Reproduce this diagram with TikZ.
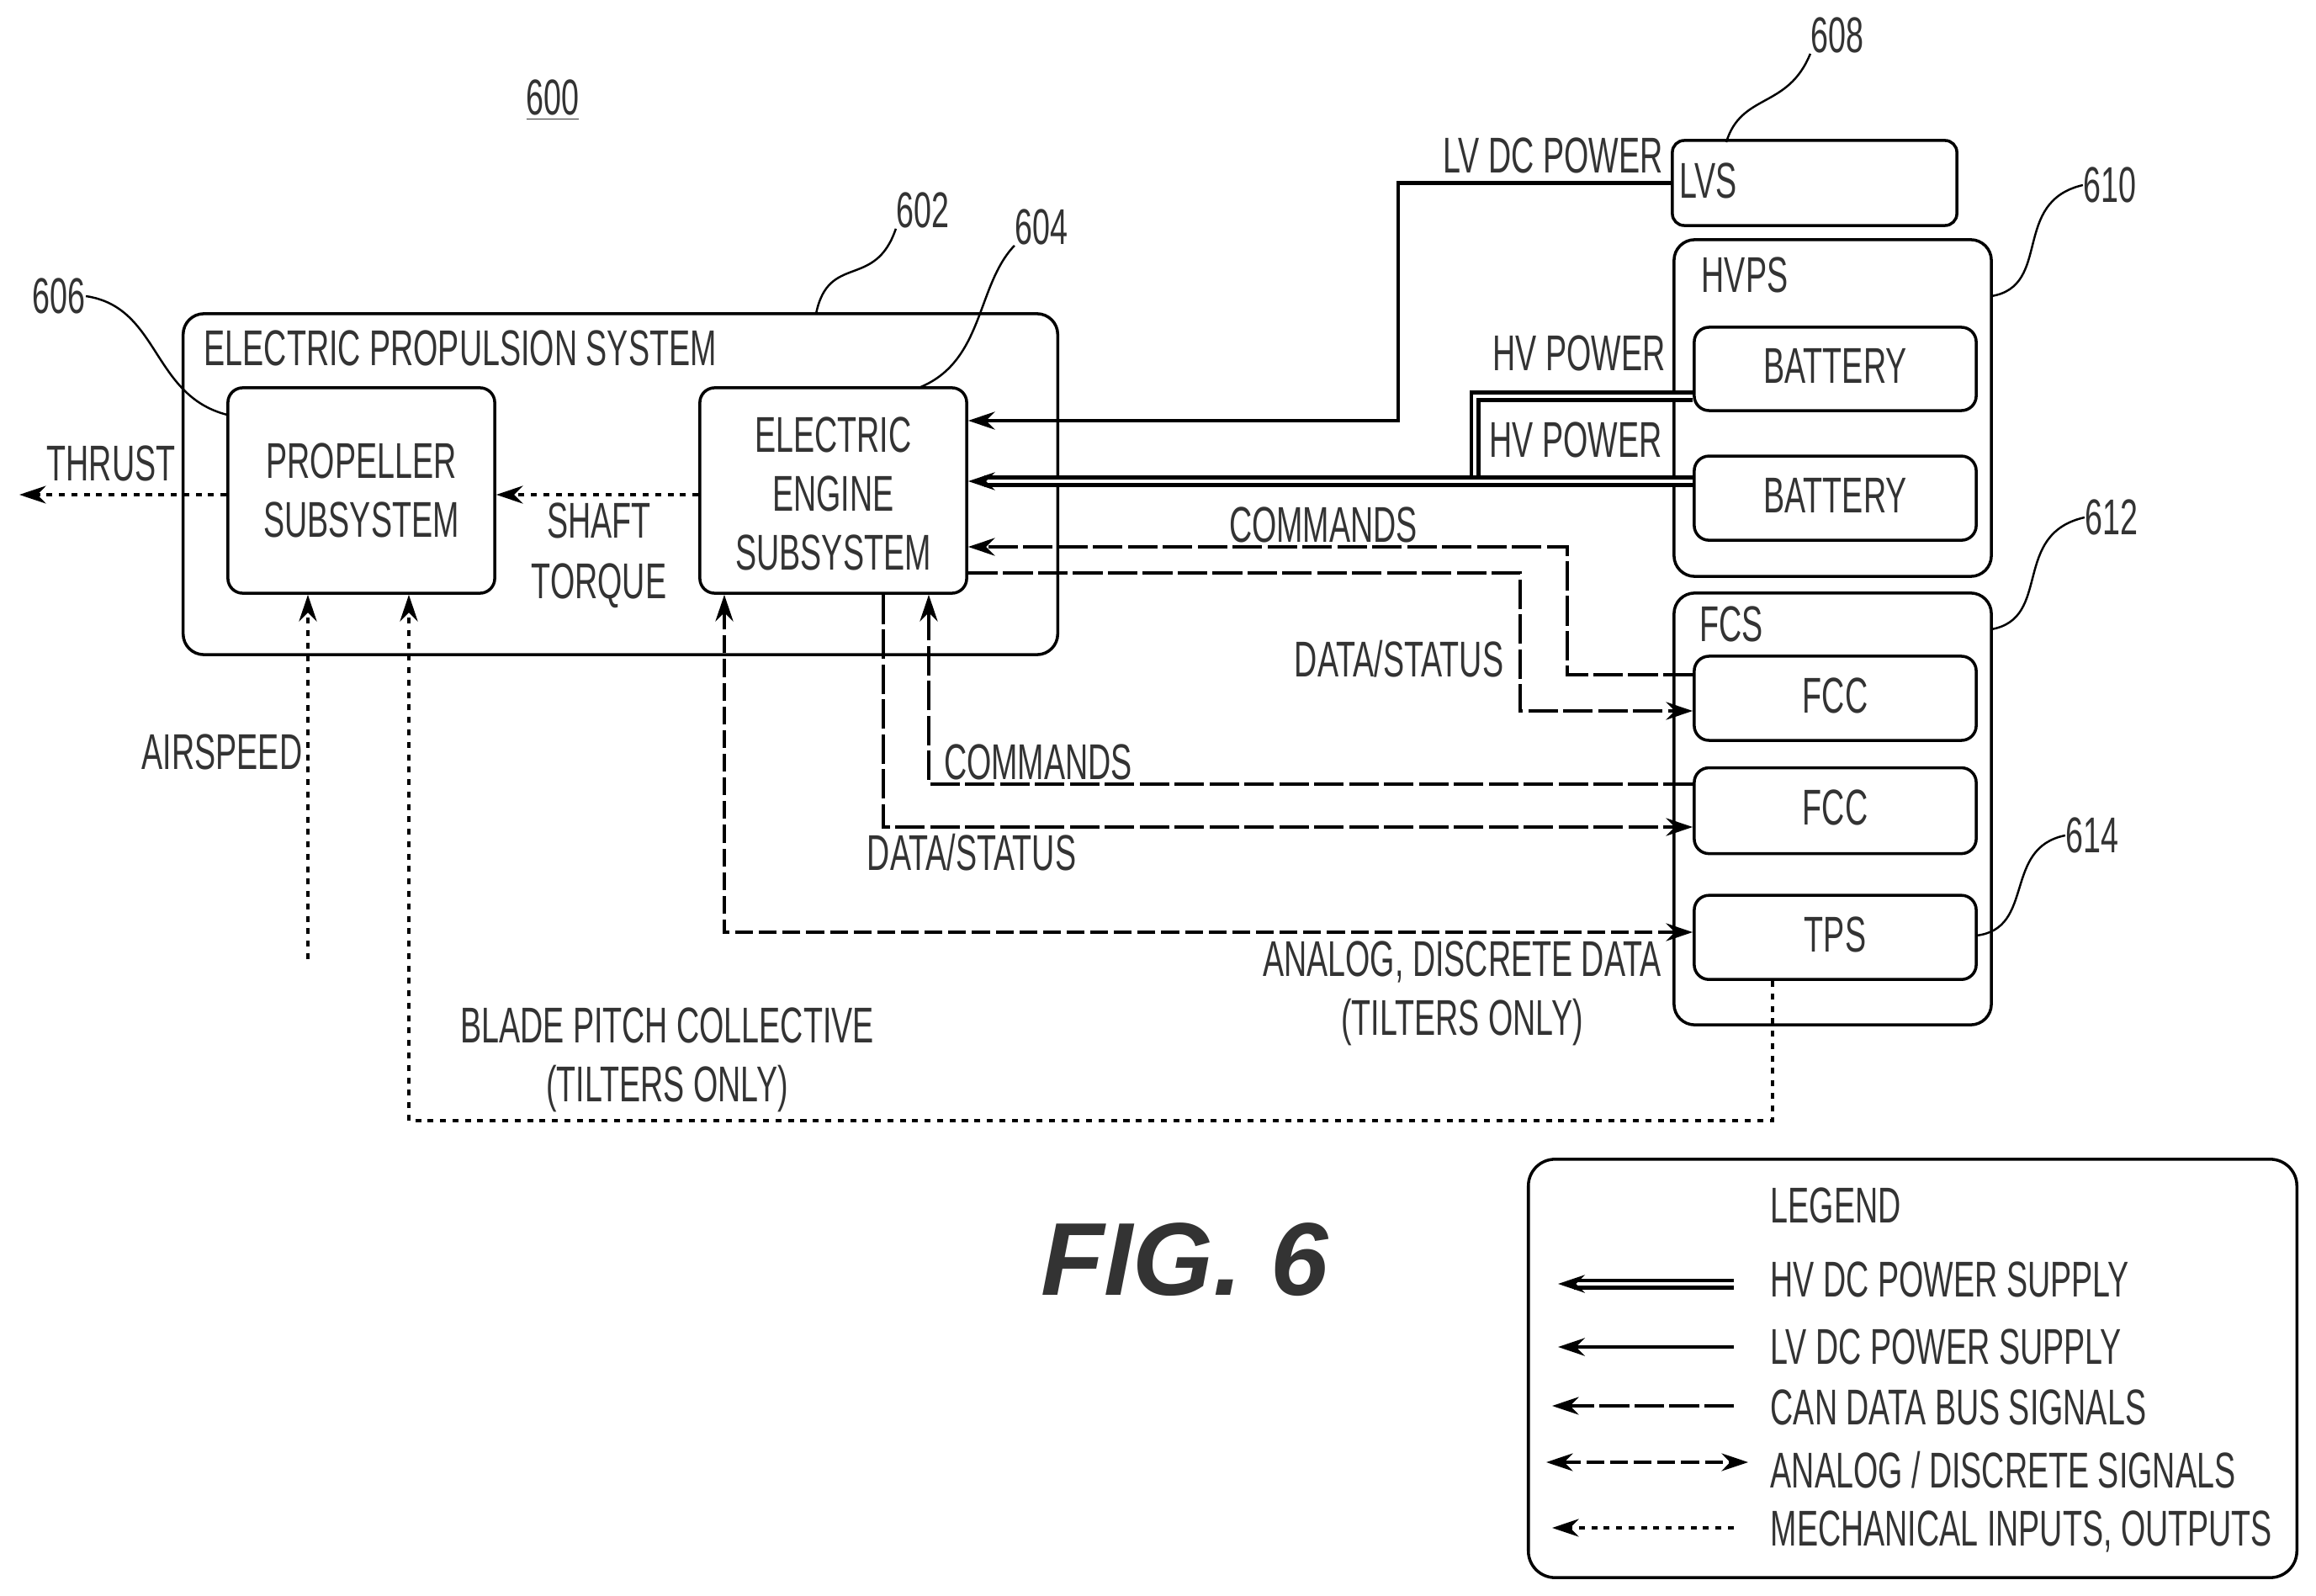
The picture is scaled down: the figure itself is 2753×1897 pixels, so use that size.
\documentclass[tikz,border=0pt]{standalone}
\usepackage{fontspec}
\setmainfont[FakeStretch=0.63]{Liberation Sans}
\newfontfamily\figfont{Liberation Sans}
\usetikzlibrary{shapes,positioning,arrows.meta,calc}

\begin{document}
\begin{tikzpicture}[x=0.01cm,y=-0.01cm,
            every node/.style={font=\fontsize{17}{19.9}\selectfont, inner sep=0pt, text=black!80},
            block/.style={rectangle, draw, line width=1pt, rounded corners=5pt, align=center},
            smallblock/.style={block, text depth=2pt},
            frame/.style={rectangle, draw, line width=1pt, rounded corners=7pt},
            tag/.style={align=center},
            >={Stealth[length=9pt,width=6pt]},
            hvline/.style={line width=1.2pt, double, double distance=1.3pt},
            lvline/.style={line width=1.3pt},
            canline/.style={line width=1pt, dash pattern=on 10pt off 1.8pt},
            analine/.style={line width=1pt, dash pattern=on 6pt off 2pt},
            mechline/.style={line width=1pt, dash pattern=on 2pt off 2.2pt},
            leader/.style={line width=0.7pt}]

            \useasboundingbox (0,0) rectangle (2753,1897);

            \node [tag] (lab600) at (657,119) {\underline{600}};

            % propulsion side
            \node [frame,minimum width=10.39cm,minimum height=4.05cm] (eps) at (737.5,575.5) {};
            \node [anchor=west] (epstext) at (242,414) {ELECTRIC PROPULSION SYSTEM};
            \node [block,minimum width=3.17cm,minimum height=2.44cm] (prop) at (429.5,583) {PROPELLER\\SUBSYSTEM};
            \node [block,minimum width=3.17cm,minimum height=2.44cm,text depth=0pt,text height=54pt] (ee) at (990.5,583) {ELECTRIC\\ENGINE\\SUBSYSTEM};
            \coordinate (thrustend) at (23,588);
            \node [tag] (thrust) at (132,551) {THRUST};
            \node [tag] (shaft) at (712,660) {SHAFT\\[0.6pt]TORQUE};

            % power and flight control side
            \node [block,minimum width=3.38cm,minimum height=1.01cm,rounded corners=4pt] (lvs) at (2157,217.5) {};
            \node [anchor=west] (lvstext) at (1996,215) {LVS};
            \node [frame,minimum width=3.77cm,minimum height=4.00cm] (hvps) at (2178.5,485) {};
            \node [anchor=west] (hvpstext) at (2022,327) {HVPS};
            \node [smallblock,minimum width=3.35cm,minimum height=0.99cm] (batt1) at (2181.5,438.5) {BATTERY};
            \node [smallblock,minimum width=3.35cm,minimum height=1.00cm,below=0.505cm of batt1] (batt2) {BATTERY};
            \node [frame,minimum width=3.77cm,minimum height=5.13cm] (fcs) at (2178.5,961.5) {};
            \node [anchor=west] (fcstext) at (2020,742) {FCS};
            \node [smallblock,minimum width=3.35cm,minimum height=1.00cm] (fcc1) at (2181.5,830) {FCC};
            \node [smallblock,minimum width=3.35cm,minimum height=1.02cm,below=0.29cm of fcc1] (fcc2) {FCC};
            \node [smallblock,minimum width=3.35cm,minimum height=1.00cm,below=0.46cm of fcc2] (tps) {TPS};

            % bends of the connectors
            \coordinate (lvdrop) at (1662,500);
            \coordinate (hvtop) at (1753,471);
            \coordinate (hvlow) at (1753,572);
            \coordinate (cmdup) at (1863,650);
            \coordinate (cmdin) at (1863,802);
            \coordinate (datout) at (1807,681);
            \coordinate (datin) at (1807,845);
            \coordinate (cmdlow) at (1104,932);
            \coordinate (datlow) at (1050,983);
            \coordinate (analow) at (861,1108);
            \coordinate (blade) at (486,1332);
            \coordinate (bladeend) at (2107,1332);
            \coordinate (airstart) at (366,1140);

            \draw [lvline,->] (lvs.west) -| (lvdrop) -- (ee.east |- lvdrop);
            \draw [hvline] (batt1.west |- hvtop) -- (hvtop) -- (hvlow);
            \draw [hvline,->] (batt2.west |- hvlow) -- (ee.east |- hvlow);
            \draw [canline,->] (fcc1.west |- cmdin) -- (cmdin) -- (cmdup) -- (ee.east |- cmdup);
            \draw [canline,->] (ee.east |- datout) -- (datout) -- (datin) -- (fcc1.west |- datin);
            \draw [canline,->] (fcc2.west |- cmdlow) -- (cmdlow) -- (cmdlow |- ee.south);
            \draw [canline,->] (datlow |- ee.south) -- (datlow) -- (fcc2.west |- datlow);
            \draw [analine,<->] (tps.west |- analow) -- (analow) -- (analow |- ee.south);
            \draw [mechline,->] (prop.west |- thrustend) -- (thrustend);
            \draw [mechline,->] (ee.west |- thrustend) -- (prop.east |- thrustend);
            \draw [mechline,->] (airstart) -- (airstart |- prop.south);
            \draw [mechline,->] (bladeend |- tps.south) -- (bladeend) -- (blade) -- (blade |- prop.south);

            \node [tag] (lvpower) at (1846,185) {LV DC POWER};
            \node [tag] (hvpower1) at (1877,420) {HV POWER};
            \node [tag] (hvpower2) at (1873,523) {HV POWER};
            \node [tag] (cmd1) at (1573,624) {COMMANDS};
            \node [tag] (data1) at (1663,783) {DATA/STATUS};
            \node [tag] (cmd2) at (1234,906) {COMMANDS};
            \node [tag] (data2) at (1155,1013) {DATA/STATUS};
            \node [tag] (air) at (264,894) {AIRSPEED};
            \node [tag] (analog) at (1738,1181) {ANALOG, DISCRETE DATA\\(TILTERS ONLY)};
            \node [tag] (pitch) at (793,1260) {BLADE PITCH COLLECTIVE\\(TILTERS ONLY)};

            % reference numbers
            \node [tag] (lab602) at (1097,250) {602};
            \node [tag] (lab604) at (1238,270) {604};
            \node [tag] (lab606) at (70,352) {606};
            \node [tag] (lab608) at (2184,42) {608};
            \node [tag] (lab610) at (2508,220) {610};
            \node [tag] (lab612) at (2510,615) {612};
            \node [tag] (lab614) at (2487,993) {614};
            \coordinate (tip602) at (970,373);
            \coordinate (tip604) at (1092,461);
            \coordinate (tip606) at (270,493);
            \coordinate (tip608) at (2052,169);
            \coordinate (tip610) at (2367,352);
            \coordinate (tip612) at (2367,748);
            \coordinate (tip614) at (2349,1112);
            \draw [leader] (tip602) .. controls (985,300) and (1040,345) .. (lab602.south west);
            \draw [leader] (tip604) .. controls (1170,430) and (1160,340) .. (lab604.south west);
            \draw [leader] (lab606.east) .. controls (190,365) and (180,470) .. (tip606);
            \draw [leader] (tip608) .. controls (2070,110) and (2125,130) .. (lab608.south west);
            \draw [leader] (tip610) .. controls (2440,340) and (2390,240) .. (lab610.west);
            \draw [leader] (tip612) .. controls (2440,735) and (2390,635) .. (lab612.west);
            \draw [leader] (tip614) .. controls (2420,1104) and (2380,1008) .. (lab614.west);

            \node [tag] (fig) at (1408,1497) {\figfont\fontsize{35}{35}\selectfont\bfseries\itshape FIG. 6};

            % legend
            \node [frame,minimum width=9.13cm,minimum height=4.97cm,rounded corners=9pt] (legend) at (2273.5,1626.5) {};
            \node [anchor=west] (legtitle) at (2104,1433) {LEGEND};
            \node [anchor=west] (leghv) at (2104,1521) {HV DC POWER SUPPLY};
            \node [anchor=west] (leglv) at (2104,1601) {LV DC POWER SUPPLY};
            \node [anchor=west] (legcan) at (2104,1673) {CAN DATA BUS SIGNALS};
            \node [anchor=west] (legana) at (2104,1747) {ANALOG / DISCRETE SIGNALS};
            \node [anchor=west] (legmech) at (2104,1820) {MECHANICAL INPUTS, OUTPUTS};
            \coordinate (hvr) at (2061,1526);
            \coordinate (hvl) at (1852,1526);
            \coordinate (lvr) at (2061,1601);
            \coordinate (lvl) at (1852,1601);
            \coordinate (canr) at (2061,1671);
            \coordinate (canl) at (1845,1671);
            \coordinate (anar) at (2078,1738);
            \coordinate (anal) at (1838,1738);
            \coordinate (mechr) at (2061,1816);
            \coordinate (mechl) at (1845,1816);
            \draw [hvline,->] (hvr) -- (hvl);
            \draw [lvline,->] (lvr) -- (lvl);
            \draw [canline,->] (canr) -- (canl);
            \draw [analine,<->] (anal) -- (anar);
            \draw [mechline,->] (mechr) -- (mechl);

\end{tikzpicture}
\end{document}
